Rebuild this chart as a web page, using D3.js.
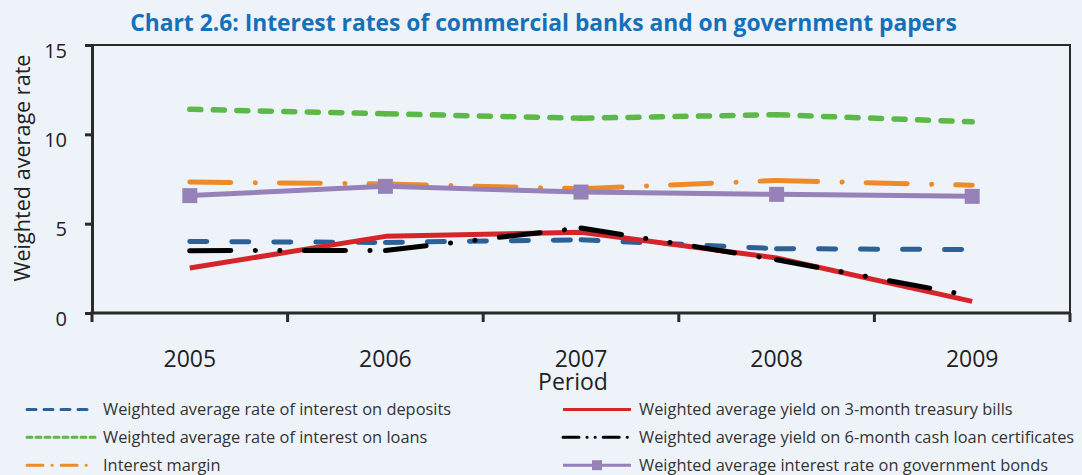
<!DOCTYPE html>
<html>
<head>
<meta charset="utf-8">
<script src="https://cdn.jsdelivr.net/npm/d3@7"></script>
<style>
  html, body { margin: 0; padding: 0; background: #eef3fa; }
  svg { display: block; }
</style>
</head>
<body>
<svg id="chart" width="1082" height="475"></svg>
<script>
// ---------------- DATA ----------------
const categories = ["2005", "2006", "2007", "2008", "2009"];
const deposits = [4.0, 3.95, 4.1, 3.6, 3.55];
const loans = [11.4, 11.15, 10.9, 11.1, 10.7];
const interestMargin = [7.33, 7.22, 6.96, 7.42, 7.15];
const tbills3m = [2.52, 4.29, 4.52, 3.08, 0.65];
const cashCert6m = [3.49, 3.5, 4.76, 2.98, 0.95];
const govBonds = [6.57, 7.09, 6.77, 6.64, 6.53];
const yTicks = [0, 5, 10, 15];

const seriesNames = [
  "Weighted average rate of interest on deposits",
  "Weighted average yield on 3-month treasury bills",
  "Weighted average rate of interest on loans",
  "Weighted average yield on 6-month cash loan certificates",
  "Interest margin",
  "Weighted average interest rate on government bonds"
];
const title = "Chart 2.6: Interest rates of commercial banks and on government papers";
const xTitle = "Period";
const yTitle = "Weighted average rate";

// ---------------- STYLE ----------------
const series = [
  { name: seriesNames[0], values: deposits, color: "#2b6196", width: 5, dash: "17,25", legendDash: "9,8", lw: 3 },
  { name: seriesNames[1], values: tbills3m, color: "#d6242b", width: 5, dash: null, legendDash: null, lw: 3 },
  { name: seriesNames[2], values: loans, color: "#5cb947", width: 5.5, dash: "11,12.5", legendDash: "5,4", lw: 3 },
  { name: seriesNames[3], values: cashCert6m, color: "#000000", width: 5, dash: "41,24.5,0.1,24.5,0.1,24.5", legendDash: "16,8,0.1,8,0.1,8", lw: 3 },
  { name: seriesNames[4], values: interestMargin, color: "#ef8a28", width: 5, dash: "41,24.5,0.1,24", legendDash: "16,9,0.1,9", lw: 3 },
  { name: seriesNames[5], values: govBonds, color: "#9681b8", width: 5, dash: null, legendDash: null, lw: 3, marker: true }
];

const svg = d3.select("#chart");
const plot = { left: 92, right: 1070, top: 45, bottom: 313 };
const font = "'Open Sans', 'DejaVu Sans', sans-serif";

const x = d3.scaleBand().domain(categories).range([plot.left, plot.right]);
const y = d3.scaleLinear().domain([0, 15]).range([plot.bottom, plot.top]);
const cx = c => x(c) + x.bandwidth() / 2;

// Title
svg.append("text")
  .attr("x", 543.5).attr("y", 31)
  .attr("text-anchor", "middle")
  .attr("font-family", font).attr("font-weight", "bold")
  .attr("font-size", 22.8).attr("fill", "#1470b8")
  .text(title);

// Top and right border
svg.append("path")
  .attr("d", `M${plot.left},${plot.top}H${plot.right}V${plot.bottom}`)
  .attr("fill", "none").attr("stroke", "#2a2a2a").attr("stroke-width", 2);

// Y axis
const yAxis = svg.append("g")
  .attr("transform", `translate(${plot.left},0)`)
  .call(d3.axisLeft(y).tickValues(yTicks).tickSize(7).tickSizeOuter(0).tickPadding(18));
yAxis.select(".domain").attr("stroke", "#2a2a2a").attr("stroke-width", 3);
yAxis.selectAll(".tick line").attr("stroke", "#2a2a2a").attr("stroke-width", 3);
yAxis.selectAll(".tick text")
  .attr("font-family", font).attr("font-size", 20).attr("fill", "#222")
  .attr("dy", "0.6em");

// X axis line
svg.append("line")
  .attr("x1", plot.left - 1.5).attr("x2", plot.right + 1)
  .attr("y1", y(0)).attr("y2", y(0))
  .attr("stroke", "#2a2a2a").attr("stroke-width", 3);
// X ticks at band boundaries
const boundaries = categories.map(c => x(c)).concat([x.range()[1]]);
svg.append("g").selectAll("line").data(boundaries).join("line")
  .attr("x1", d => d).attr("x2", d => d)
  .attr("y1", y(0)).attr("y2", y(0) + 9)
  .attr("stroke", "#2a2a2a").attr("stroke-width", 3);
// X tick labels
const xAxis = svg.append("g")
  .attr("transform", `translate(0,${y(0)})`)
  .call(d3.axisBottom(x).tickSize(0).tickPadding(38));
xAxis.select(".domain").remove();
xAxis.selectAll(".tick text")
  .attr("font-family", font).attr("font-size", 23).attr("fill", "#222");

// Axis titles
svg.append("text")
  .attr("x", 573).attr("y", 390)
  .attr("text-anchor", "middle")
  .attr("font-family", font).attr("font-size", 23).attr("fill", "#222")
  .text(xTitle);
svg.append("text")
  .attr("transform", `translate(30,168) rotate(-90)`)
  .attr("text-anchor", "middle")
  .attr("font-family", font).attr("font-size", 21.6).attr("fill", "#222")
  .text(yTitle);

// Lines
const line = d3.line().x(d => cx(d.c)).y(d => y(d.v));
const lineG = svg.append("g");
series.forEach(s => {
  const pts = categories.map((c, i) => ({ c, v: s.values[i] }));
  if (s.dash) {
    // dash pattern restarts on each segment
    for (let i = 0; i < pts.length - 1; i++) {
      lineG.append("path")
        .attr("d", line([pts[i], pts[i + 1]]))
        .attr("fill", "none").attr("stroke", s.color)
        .attr("stroke-width", s.width)
        .attr("stroke-linecap", "round")
        .attr("stroke-dasharray", s.dash);
    }
  } else {
    lineG.append("path")
      .attr("d", line(pts))
      .attr("fill", "none").attr("stroke", s.color)
      .attr("stroke-width", s.width)
      .attr("stroke-linejoin", "round");
  }
  if (s.marker) {
    lineG.selectAll(null).data(pts).join("rect")
      .attr("x", d => cx(d.c) - 7.5).attr("y", d => y(d.v) - 7.5)
      .attr("width", 15).attr("height", 15)
      .attr("fill", s.color);
  }
});

// Legend (two columns, row-major)
const legend = svg.append("g");
const colX = [27, 563];
const rowY = [409.5, 437.3, 465.2];
const swW = 68;
series.forEach((s, i) => {
  const col = i % 2, row = Math.floor(i / 2);
  const g = legend.append("g").attr("transform", `translate(${colX[col]},${rowY[row]})`);
  g.append("line")
    .attr("x1", 0).attr("x2", swW).attr("y1", 0).attr("y2", 0)
    .attr("stroke", s.color).attr("stroke-width", s.lw)
    .attr("stroke-linecap", s.legendDash ? "round" : "butt")
    .attr("stroke-dasharray", s.legendDash);
  if (s.marker) {
    g.append("rect").attr("x", swW / 2 - 5).attr("y", -5)
      .attr("width", 10).attr("height", 10).attr("fill", s.color);
  }
  g.append("text")
    .attr("x", swW + 8).attr("y", 0).attr("dy", "0.36em")
    .attr("font-family", font).attr("font-size", 16.4).attr("fill", "#333")
    .text(s.name);
});
</script>
</body>
</html>
